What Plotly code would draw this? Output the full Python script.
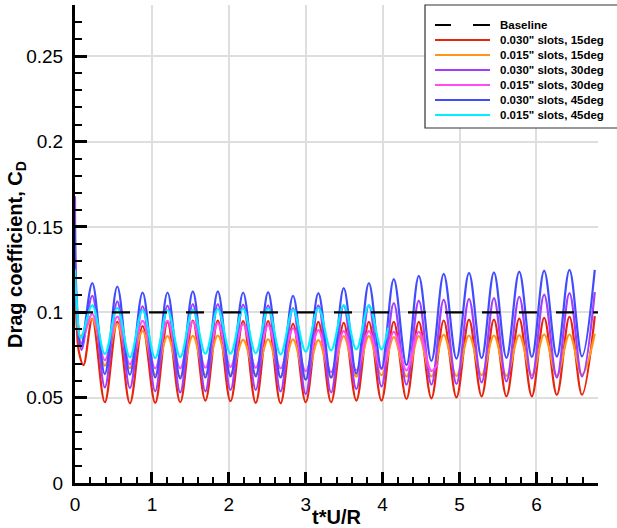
import plotly.graph_objects as go

# times of the oscillation peaks / troughs
t_peak = [0.225, 0.55, 0.879, 1.203, 1.532, 1.857, 2.186, 2.511, 2.835, 3.164, 3.494,
          3.821, 4.145, 4.47, 4.794, 5.123, 5.447, 5.776, 6.1, 6.429, 6.758]
t_trough = [0.388, 0.714, 1.043, 1.368, 1.695, 2.022, 2.35, 2.673, 3.0, 3.33,
            3.658, 3.985, 4.31, 4.634, 4.96, 5.287, 5.61, 5.94, 6.265, 6.592]

# 0.030" slots, 15deg (red)
red_t0 = [0.0, 0.02, 0.05, 0.11]
red_v0 = [0.118, 0.095, 0.077, 0.069]
red_pk = [0.0963, 0.0944, 0.0919, 0.0942, 0.0952, 0.0952, 0.0948, 0.0948, 0.0932, 0.0944, 0.0938,
          0.0944, 0.0944, 0.0944, 0.0952, 0.0957, 0.0957, 0.0963, 0.0967, 0.0973, 0.0977]
red_tr = [0.0473, 0.0467, 0.0469, 0.0473, 0.0483, 0.0479, 0.0469, 0.0467, 0.0473, 0.0473,
          0.0483, 0.0483, 0.0492, 0.0496, 0.0502, 0.0508, 0.0508, 0.0508, 0.0516, 0.0517]

# 0.015" slots, 15deg (orange)
orange_t0 = [0.0, 0.02, 0.07]
orange_v0 = [0.120, 0.100, 0.086]
orange_pk = [0.0960, 0.0932, 0.0890, 0.0860, 0.0862, 0.0864, 0.0838, 0.0841, 0.0841, 0.0837, 0.0860,
             0.0860, 0.0855, 0.0860, 0.0868, 0.0864, 0.0864, 0.0866, 0.0870, 0.0870, 0.0874]
orange_tr = [0.0688, 0.0673, 0.0635, 0.0624, 0.0634, 0.0638, 0.0636, 0.0624, 0.0607, 0.0618,
             0.0624, 0.0632, 0.0624, 0.0624, 0.0628, 0.0632, 0.0628, 0.0632, 0.0630, 0.0635]

# 0.030" slots, 30deg (purple)
purple_t0 = [0.0, 0.02, 0.085]
purple_v0 = [0.168, 0.110, 0.078]
purple_pk = [0.1097, 0.1064, 0.1035, 0.1039, 0.1048, 0.1048, 0.1045, 0.1041, 0.1025, 0.1041, 0.1041,
             0.1040, 0.1054, 0.1068, 0.1074, 0.1078, 0.1083, 0.1091, 0.1103, 0.1112, 0.1118]
purple_tr = [0.0560, 0.0556, 0.0537, 0.0531, 0.0537, 0.0545, 0.0545, 0.0537, 0.0521, 0.0531,
             0.0550, 0.0566, 0.0576, 0.0576, 0.0580, 0.0589, 0.0595, 0.0612, 0.0618, 0.0624]

# 0.015" slots, 30deg (magenta), stops at t*U/R ~ 4.72
magenta_t0 = [0.0, 0.02, 0.08]
magenta_v0 = [0.130, 0.104, 0.082]
magenta_pk = [0.0990, 0.0975, 0.0950, 0.0950, 0.0945, 0.0935, 0.0930,
              0.0925, 0.0905, 0.0895, 0.0890, 0.0890, 0.0885, 0.0885]
magenta_tr = [0.0720, 0.0695, 0.0672, 0.0672, 0.0676, 0.0680, 0.0676,
              0.0672, 0.0655, 0.0650, 0.0660, 0.0668, 0.0660, 0.0657]
magenta_end = (4.72, 0.0700)

# 0.030" slots, 45deg (blue)
blue_t0 = [0.0, 0.02, 0.08]
blue_v0 = [0.150, 0.105, 0.080]
blue_pk = [0.1171, 0.1151, 0.1116, 0.1116, 0.1122, 0.1122, 0.1116, 0.1118, 0.1097, 0.1112, 0.1141,
           0.1171, 0.1194, 0.1213, 0.1225, 0.1231, 0.1234, 0.1238, 0.1244, 0.1248, 0.1248]
blue_tr = [0.0638, 0.0634, 0.0618, 0.0612, 0.0618, 0.0624, 0.0624, 0.0618, 0.0605, 0.0618,
           0.0641, 0.0672, 0.0690, 0.0715, 0.0729, 0.0731, 0.0733, 0.0738, 0.0740, 0.0742]

# 0.015" slots, 45deg (cyan), stops at t*U/R ~ 4.07
cyan_t0 = [0.0, 0.02, 0.075]
cyan_v0 = [0.125, 0.107, 0.085]
cyan_pk = [0.1040, 0.1025, 0.1012, 0.1012, 0.1016, 0.1018, 0.1022, 0.1022, 0.1016, 0.1025, 0.1040, 0.1040]
cyan_tr = [0.0756, 0.0736, 0.0732, 0.0738, 0.0758, 0.0758, 0.0760, 0.0754, 0.0770, 0.0777, 0.0783, 0.0783]
cyan_end = (4.07, 0.0910)

base_t = [0.0, 6.8]
base_v = [0.1, 0.1]

labels = ['Baseline', '0.030" slots, 15deg', '0.015" slots, 15deg', '0.030" slots, 30deg',
          '0.015" slots, 30deg', '0.030" slots, 45deg', '0.015" slots, 45deg']
colors = ['black', '#e8240c', '#ff9418', '#a23cff', '#ff4cf4', '#3f4cff', '#00f0ff']


def build(t0, v0, peaks, troughs, end=None):
    x = list(t0)
    y = list(v0)
    for i, p in enumerate(peaks):
        x.append(t_peak[i])
        y.append(p)
        if i < len(troughs):
            x.append(t_trough[i])
            y.append(troughs[i])
    if end:
        x.append(end[0])
        y.append(end[1])
    return x, y


series = [
    build(red_t0, red_v0, red_pk, red_tr),
    build(orange_t0, orange_v0, orange_pk, orange_tr),
    build(purple_t0, purple_v0, purple_pk, purple_tr),
    build(magenta_t0, magenta_v0, magenta_pk, magenta_tr, magenta_end),
    build(blue_t0, blue_v0, blue_pk, blue_tr),
    build(cyan_t0, cyan_v0, cyan_pk, cyan_tr, cyan_end),
]

fig = go.Figure()
for (x, y), name, col in zip(series, labels[1:], colors[1:]):
    fig.add_trace(go.Scatter(x=x, y=y, mode='lines', name=name,
                             line=dict(color=col, width=2.2, shape='spline', smoothing=1.0)))
fig.add_trace(go.Scatter(x=base_t, y=base_v, mode='lines', name=labels[0],
                         line=dict(color='black', width=2.2, dash='18px,19px')))

# plot area in pixels: left 75, right 598, top 5, bottom 483
L, R, T, B = 75, 598, 5, 483
def px(xp):
    return (xp - L) / (R - L)
def py(yp):
    return (B - yp) / (B - T)

# hand-drawn legend box like the original (long line samples)
shapes = [dict(type='rect', xref='paper', yref='paper', x0=px(425), x1=px(650),
               y0=py(128), y1=py(5), line=dict(color='#333333', width=1.2),
               fillcolor='white', layer='above')]
annotations = []
rows = [25, 40, 55, 70, 85, 100, 115]
for yy, name, col in zip(rows, labels, colors):
    if name == 'Baseline':
        for a, b in [(435, 451), (473, 490)]:
            shapes.append(dict(type='line', xref='paper', yref='paper', x0=px(a), x1=px(b),
                               y0=py(yy), y1=py(yy), line=dict(color=col, width=2)))
    else:
        shapes.append(dict(type='line', xref='paper', yref='paper', x0=px(435), x1=px(490),
                           y0=py(yy), y1=py(yy), line=dict(color=col, width=2)))
    annotations.append(dict(xref='paper', yref='paper', x=px(498), y=py(yy), text='<b>%s</b>' % name,
                            showarrow=False, xanchor='left', yanchor='middle',
                            font=dict(size=11.5, color='black', family='Liberation Sans')))

# axis titles
annotations.append(dict(xref='paper', yref='paper', x=0.5, y=py(517), text='<b>t*U/R</b>',
                        showarrow=False, xanchor='center', yanchor='middle',
                        font=dict(size=20, color='black', family='Liberation Sans')))
annotations.append(dict(xref='paper', yref='paper', x=px(16), y=py(255),
                        text='<b>Drag coefficient, C<sub>D</sub></b>', textangle=-90,
                        showarrow=False, xanchor='center', yanchor='middle',
                        font=dict(size=20, color='black', family='Liberation Sans')))

axis_common = dict(showline=True, linewidth=3, linecolor='black', ticks='inside',
                   tickwidth=2.5, tickcolor='black', showgrid=True, gridcolor='#dedede',
                   gridwidth=1.5, zeroline=False, automargin=False,
                   tickfont=dict(size=19, color='black'))

fig.update_layout(
    width=617, height=528,
    margin=dict(l=L, r=617 - R, t=T, b=528 - B),
    paper_bgcolor='white', plot_bgcolor='white',
    font=dict(family='Liberation Sans', color='black'),
    showlegend=False,
    shapes=shapes, annotations=annotations,
    xaxis=dict(range=[0, 6.8], tick0=0, dtick=1, ticklen=11, ticklabelstandoff=2,
               minor=dict(dtick=0.2, ticks='inside', ticklen=6, tickwidth=1.5, tickcolor='black',
                          showgrid=False),
               **axis_common),
    yaxis=dict(range=[0, 0.28], tick0=0, dtick=0.05, ticklen=12, ticklabelstandoff=5,
               minor=dict(dtick=0.01, ticks='inside', ticklen=7, tickwidth=1.5, tickcolor='black',
                          showgrid=False),
               **axis_common),
)

# page body has a default 8px margin; drop it so the figure sits at the window corner
fig.write_html("out.html", config={'displayModeBar': False},
               post_script="document.body.style.margin='0';")
